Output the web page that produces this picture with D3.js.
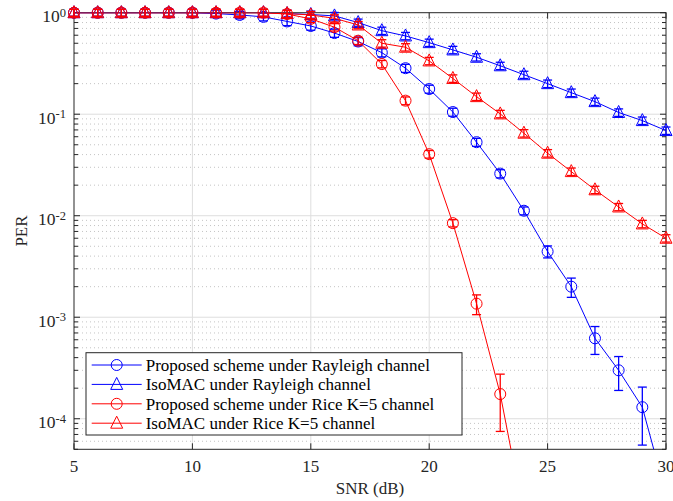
<!DOCTYPE html>
<html><head><meta charset="utf-8">
<script src="https://cdn.jsdelivr.net/npm/d3@7"></script>
<style>body{margin:0;background:#fff}svg{display:block}</style>
</head><body><svg id="c" width="673" height="501"></svg>
<script>
// ---- data ----
const snr = [5,6,7,8,9,10,11,12,13,14,15,16,17,18,19,20,21,22,23,24,25,26,27,28,29,30];
const xTicks = [5,10,15,20,25,30];
const yTickExps = [0,-1,-2,-3,-4];

const perPropRay  = [1,1,1,1,1,1,0.98,0.95,0.91,0.82,0.74,0.63,0.52,0.404,0.284,0.177,0.105,0.053,0.026,0.0112,0.00444,0.0020,6.2e-4,3.0e-4,1.3e-4,1.8e-5];
const errPropRay  = [0.08,0.08,0.08,0.08,0.08,0.08,0.08,0.08,0.08,0.075,0.068,0.058,0.048,0.037,0.026,0.016,0.0095,0.0048,0.0024,0.001,0.0006,0.00043,1.9e-4,1.1e-4,0.75e-4,0];

const perIsoRay   = [1,1,1,1,1,1,1,1,1,0.98,0.96,0.93,0.80,0.665,0.59,0.507,0.43,0.364,0.30,0.245,0.20,0.163,0.133,0.104,0.0865,0.069];
const errIsoRay   = [0.08,0.08,0.08,0.08,0.08,0.08,0.08,0.08,0.08,0.08,0.078,0.075,0.065,0.055,0.049,0.042,0.036,0.03,0.025,0.02,0.017,0.014,0.011,0.0088,0.0073,0.0058];

const perPropRice = [1,1,1,1,1,1,1,1,1,0.97,0.87,0.72,0.53,0.312,0.136,0.0404,0.00845,0.00136,1.75e-4,1.1e-5,null,null,null,null,null,null];
const errPropRice = [0.08,0.08,0.08,0.08,0.08,0.08,0.08,0.08,0.08,0.08,0.072,0.06,0.044,0.026,0.012,0.0035,0.0007,0.0003,1.0e-4,0,null,null,null,null,null,null];

const perIsoRice  = [1,1,1,1,1,1,1,1,1,0.98,0.95,0.88,0.757,0.50,0.457,0.335,0.225,0.149,0.1007,0.065,0.0413,0.0272,0.018,0.0122,0.0083,0.006];
const errIsoRice  = [0.08,0.08,0.08,0.08,0.08,0.08,0.08,0.08,0.08,0.08,0.078,0.072,0.062,0.042,0.038,0.028,0.019,0.0125,0.0085,0.0055,0.0035,0.0023,0.0015,0.001,0.0007,0.0005];

const seriesNames = ["Proposed scheme under Rayleigh channel","IsoMAC under Rayleigh channel","Proposed scheme under Rice K=5 channel","IsoMAC under Rice K=5 channel"];
const seriesColors = ["#0000ff","#0000ff","#ff0000","#ff0000"];
const seriesMarkers = ["circle","triangle","circle","triangle"];
const seriesValues = [perPropRay, perIsoRay, perPropRice, perIsoRice];
const seriesErrors = [errPropRay, errIsoRay, errPropRice, errIsoRice];

// ---- layout ----
const L=74, R=666, T=12.7, B=449.3;
const FONT = '"Liberation Serif","Times New Roman",serif';
const AX = "#262626";
const svg = d3.select("#c");
const x = d3.scaleLinear().domain([5,30]).range([L,R]);
const y = d3.scaleLog().domain([5e-5,1]).range([B,T]);

svg.append("defs").append("clipPath").attr("id","clip")
  .append("rect").attr("x",L).attr("y",T).attr("width",R-L).attr("height",B-T);

// grid
const allY = y.ticks();
const isMajor = v => Math.abs(Math.log10(v)-Math.round(Math.log10(v)))<1e-9;
const g = svg.append("g");
g.selectAll(".mg").data(allY.filter(v=>!isMajor(v) && y(v)<B-0.5)).join("line")
  .attr("x1",L).attr("x2",R).attr("y1",d=>y(d)).attr("y2",d=>y(d))
  .attr("stroke","#c4c4c4").attr("stroke-width",1).attr("stroke-dasharray","1,3");
g.selectAll(".Mg").data(allY.filter(v=>isMajor(v) && v<1)).join("line")
  .attr("x1",L).attr("x2",R).attr("y1",d=>y(d)).attr("y2",d=>y(d))
  .attr("stroke","#dedede").attr("stroke-width",1);
g.selectAll(".xg").data(xTicks.filter(v=>v>5&&v<30)).join("line")
  .attr("x1",d=>x(d)).attr("x2",d=>x(d)).attr("y1",T).attr("y2",B)
  .attr("stroke","#dedede").attr("stroke-width",1);

// axes box + ticks
const ax = svg.append("g").attr("stroke",AX).attr("stroke-width",1);
ax.append("rect").attr("x",L).attr("y",T).attr("width",R-L).attr("height",B-T).attr("fill","none");
xTicks.forEach(t=>{
  ax.append("line").attr("x1",x(t)).attr("x2",x(t)).attr("y1",B).attr("y2",B-6);
  ax.append("line").attr("x1",x(t)).attr("x2",x(t)).attr("y1",T).attr("y2",T+6);
});
allY.forEach(v=>{
  const len = isMajor(v)?6:4;
  ax.append("line").attr("x1",L).attr("x2",L+len).attr("y1",y(v)).attr("y2",y(v));
  ax.append("line").attr("x1",R).attr("x2",R-len).attr("y1",y(v)).attr("y2",y(v));
});

// tick labels
svg.append("g").selectAll("text").data(xTicks).join("text")
  .attr("x",d=>x(d)).attr("y",472.3).attr("text-anchor","middle")
  .attr("font-family",FONT).attr("font-size",17).attr("fill",AX).text(d=>d);
yTickExps.forEach(e=>{
  const t = svg.append("text").attr("x",66).attr("y",y(Math.pow(10,e))+9.5)
    .attr("text-anchor","end").attr("font-family",FONT).attr("fill",AX);
  t.append("tspan").attr("font-size",17.5).text("10");
  t.append("tspan").attr("font-size",12.5).attr("dy",-5.5).text(e);
});

// axis labels
svg.append("text").attr("x",(L+R)/2).attr("y",494).attr("text-anchor","middle")
  .attr("font-family",FONT).attr("font-size",17).attr("fill",AX).text("SNR (dB)");
svg.append("text").attr("transform",`translate(27,${(T+B)/2}) rotate(-90)`).attr("text-anchor","middle")
  .attr("font-family",FONT).attr("font-size",17).attr("fill",AX).text("PER");

// series
const triPath = "M0,-7L6,5L-6,5Z";
function drawMarker(sel, type, color){
  if(type==="circle") sel.append("circle").attr("r",5.5).attr("fill","none").attr("stroke",color).attr("stroke-width",1);
  else sel.append("path").attr("d",triPath).attr("fill","none").attr("stroke",color).attr("stroke-width",1);
}
const line = d3.line().defined(d=>d.v!=null).x(d=>x(d.s)).y(d=>y(d.v));
seriesValues.forEach((vals,i)=>{
  const col = seriesColors[i];
  const pts = snr.map((s,j)=>({s, v: vals[j], e: seriesErrors[i][j]}));
  const sg = svg.append("g");
  sg.append("path").datum(pts).attr("d",line).attr("fill","none").attr("stroke",col)
    .attr("stroke-width",1).attr("clip-path","url(#clip)");
  const vis = pts.filter(d=>d.v!=null && d.v>=5e-5);
  // error bars
  const eg = sg.append("g").attr("stroke",col).attr("stroke-width",1.3);
  vis.filter(d=>d.e>0).forEach(d=>{
    const yt = y(d.v+d.e), yb = y(Math.max(d.v-d.e,5e-5)), xc = x(d.s);
    eg.append("line").attr("x1",xc).attr("x2",xc).attr("y1",yt).attr("y2",yb);
    eg.append("line").attr("x1",xc-4.5).attr("x2",xc+4.5).attr("y1",yt).attr("y2",yt);
    eg.append("line").attr("x1",xc-4.5).attr("x2",xc+4.5).attr("y1",yb).attr("y2",yb);
  });
  vis.forEach(d=>{
    const m = sg.append("g").attr("transform",`translate(${x(d.s)},${y(d.v)})`);
    drawMarker(m, seriesMarkers[i], col);
  });
});

// legend
const lg = svg.append("g");
lg.append("rect").attr("x",86).attr("y",352.7).attr("width",376).attr("height",82.3)
  .attr("fill","#fff").attr("stroke",AX).attr("stroke-width",1);
seriesNames.forEach((n,i)=>{
  const yy = 365 + i*19.4;
  lg.append("line").attr("x1",91.7).attr("x2",141.7).attr("y1",yy).attr("y2",yy)
    .attr("stroke",seriesColors[i]).attr("stroke-width",1);
  drawMarker(lg.append("g").attr("transform",`translate(116.7,${yy})`), seriesMarkers[i], seriesColors[i]);
  lg.append("text").attr("x",145.7).attr("y",yy).attr("dy","0.35em")
    .attr("font-family",FONT).attr("font-size",17).attr("fill","#000").text(n);
});
</script></body></html>
